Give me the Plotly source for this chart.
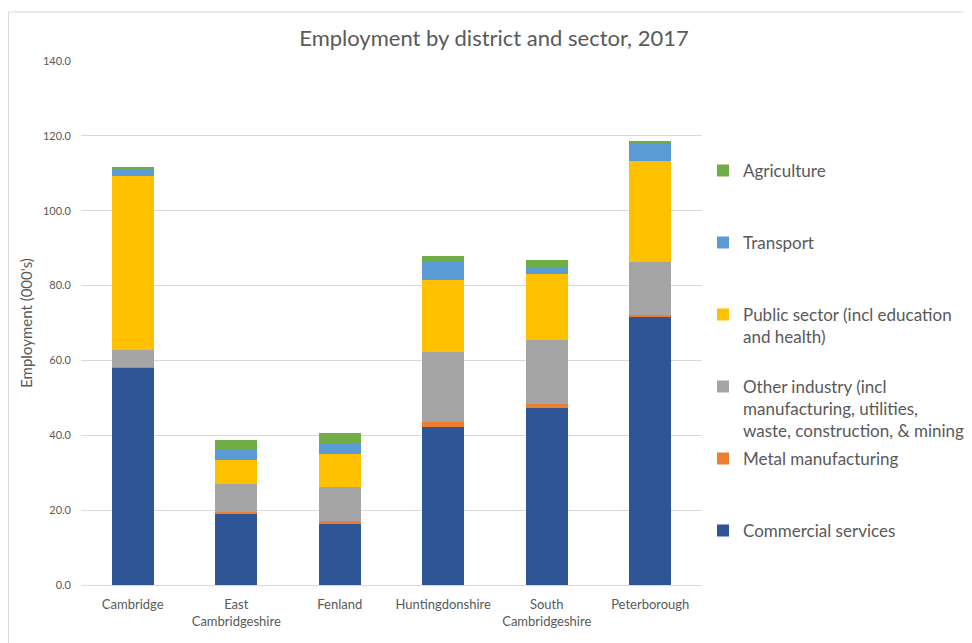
import plotly.graph_objects as go

districts = ["Cambridge", "East<br>Cambridgeshire", "Fenland", "Huntingdonshire",
             "South<br>Cambridgeshire", "Peterborough"]

commercial = [58.0, 19.1, 16.4, 42.1, 47.4, 71.7]
metal = [0.3, 0.5, 0.7, 1.4, 1.0, 0.4]
other = [4.5, 7.5, 9.1, 18.7, 17.1, 14.3]
public = [46.6, 6.3, 8.7, 19.2, 17.7, 26.8]
transport = [1.9, 2.9, 3.0, 5.2, 1.7, 5.1]
agriculture = [0.2, 2.5, 2.6, 1.4, 1.9, 0.3]

series_names = [
    "Commercial services",
    "Metal manufacturing",
    "Other industry (incl<br>manufacturing, utilities,<br>waste, construction, & mining)",
    "Public sector (incl education<br>and health)",
    "Transport",
    "Agriculture",
]
series_values = [commercial, metal, other, public, transport, agriculture]
colors = ["#2F5597", "#ED7D31", "#A5A5A5", "#FFC000", "#5B9BD5", "#70AD47"]
legend_ids = ["legend6", "legend5", "legend4", "legend3", "legend2", "legend"]

FONT = "Lato"
GREY = "#595959"

fig = go.Figure()
for name, vals, col, lg in zip(series_names, series_values, colors, legend_ids):
    fig.add_trace(go.Bar(x=districts, y=vals, name=name, marker_color=col,
                         marker_line_width=0, legend=lg, showlegend=True))

# page offset from the default body margin
OFF = 8
W, H = 972, 643
# target plot area in page pixels: x 81..702, y 61..585
ml = 81 - OFF
mt = 61 - OFF
mr = W - (702 - OFF)
mb = H - (585 - OFF)
ph = H - mt - mb
pw = W - ml - mr

def py(page_pix):
    return ((585 - OFF) - (page_pix - OFF)) / ph

def px(page_pix):
    return ((page_pix - OFF) - (81 - OFF)) / pw

LEG_FS = 17
first_line_offset = 5 + LEG_FS * 1.3 / 2
line_centers = [169, 241, 313, 385, 457, 529]
order = ["legend", "legend2", "legend3", "legend4", "legend5", "legend6"]
legend_layout = {}
for lid, c in zip(order, line_centers):
    legend_layout[lid] = dict(
        x=px(703), xanchor="left", y=py(c - first_line_offset), yanchor="top",
        font=dict(family=FONT, size=LEG_FS, color=GREY),
        valign="top", bgcolor="rgba(0,0,0,0)", borderwidth=0,
    )

fig.update_layout(
    width=W, height=H,
    showlegend=True,
    barmode="stack", bargap=0.594,
    paper_bgcolor="white", plot_bgcolor="white",
    margin=dict(l=ml, r=mr, t=mt, b=mb, autoexpand=False),
    font=dict(family=FONT, color=GREY),
    title=dict(text="Employment by district and sector, 2017",
               x=(494 - OFF) / W, xanchor="center", xref="container",
               y=1 - (38 - OFF) / H, yanchor="middle", yref="container",
               font=dict(family=FONT, size=22, color=GREY)),
    yaxis=dict(range=[0, 140], dtick=20, tickformat=".1f",
               gridcolor="#D9D9D9", gridwidth=1, zeroline=True,
               zerolinecolor="#D9D9D9", zerolinewidth=1, showline=False,
               tickfont=dict(family=FONT, size=11, color=GREY),
               ticklabelstandoff=9,
               title=dict(text="Employment (000's)", standoff=6,
                          font=dict(family=FONT, size=15, color=GREY))),
    xaxis=dict(showline=False, showgrid=False, ticks="",
               tickfont=dict(family=FONT, size=13, color=GREY),
               ticklabelstandoff=10),
    shapes=[dict(type="rect", xref="paper", yref="paper",
                 x0=px(8.5), x1=2.0, y0=-1.0, y1=py(12),
                 line=dict(color="#D9D9D9", width=1), fillcolor="rgba(0,0,0,0)",
                 layer="below")],
    **legend_layout,
)

fig.write_html("out.html")
